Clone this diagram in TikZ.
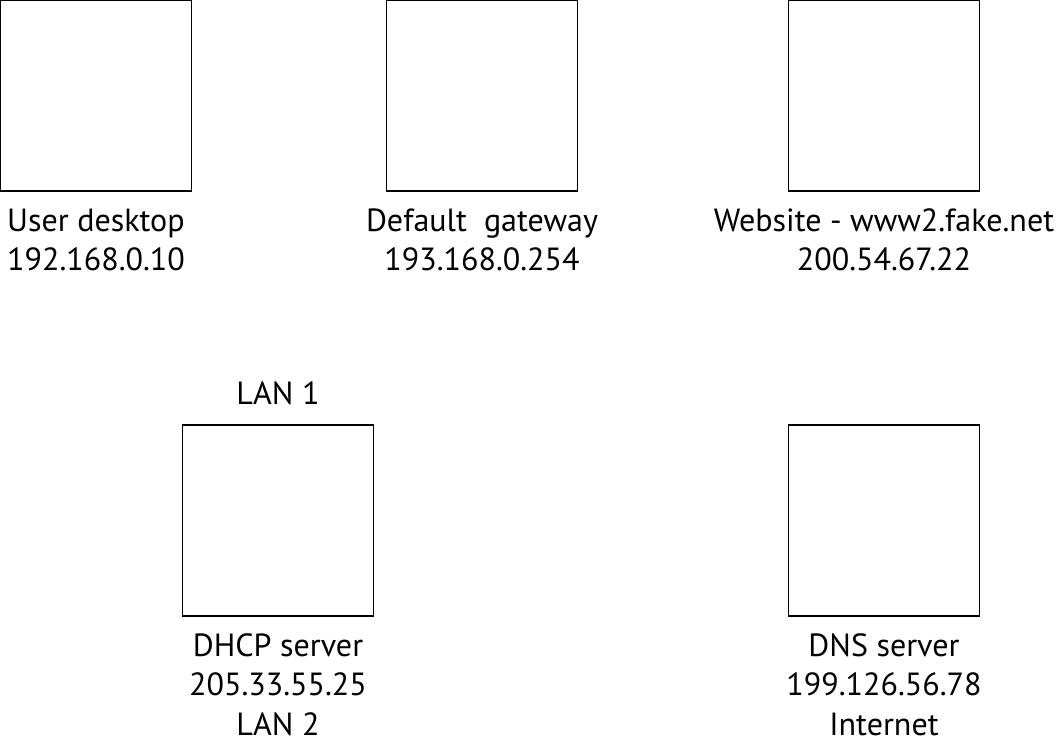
\documentclass[tikz,border=0pt]{standalone}
\usepackage{fontspec}
\setmainfont{PT Sans}
\usetikzlibrary{positioning}
\tikzstyle{device}=[rectangle,draw,line width=1.2pt,minimum size=4.775cm,inner sep=0pt]
\tikzstyle{caption}=[align=center,inner sep=0pt,font=\fontsize{22.8}{27.9}\selectfont]

\begin{document}
\begin{tikzpicture}
\useasboundingbox (0,0) rectangle (26.4,18.425);

    \def\ya{16.04}
    \def\yb{5.41}
    % boxes
    \foreach \pos/\name in {{(2.4,\ya)/desktop},{(12.05,\ya)/gateway},{(22.1,\ya)/website},{(6.95,\yb)/dhcp},{(22.1,\yb)/dns}}
        \node[device] (\name) at \pos {};

% Labels
\node[caption,below=0.3cm of desktop] (desktoplbl) {\strut User desktop\\192.168.0.10};
\node[caption,below=0.3cm of gateway] (gatewaylbl) {\strut Default\ \ gateway\\193.168.0.254};
\node[caption,below=0.3cm of website] (websitelbl) {\strut Website - www2.fake.net\\200.54.67.22};
\node[caption,above=0.2cm of dhcp] (lanone) {LAN 1\strut};
\node[caption,below=0.3cm of dhcp] (dhcplbl) {\strut DHCP server\\205.33.55.25\\LAN 2};
\node[caption,below=0.3cm of dns] (dnslbl) {\strut DNS server\\199.126.56.78\\Internet};

\end{tikzpicture}
\end{document}
